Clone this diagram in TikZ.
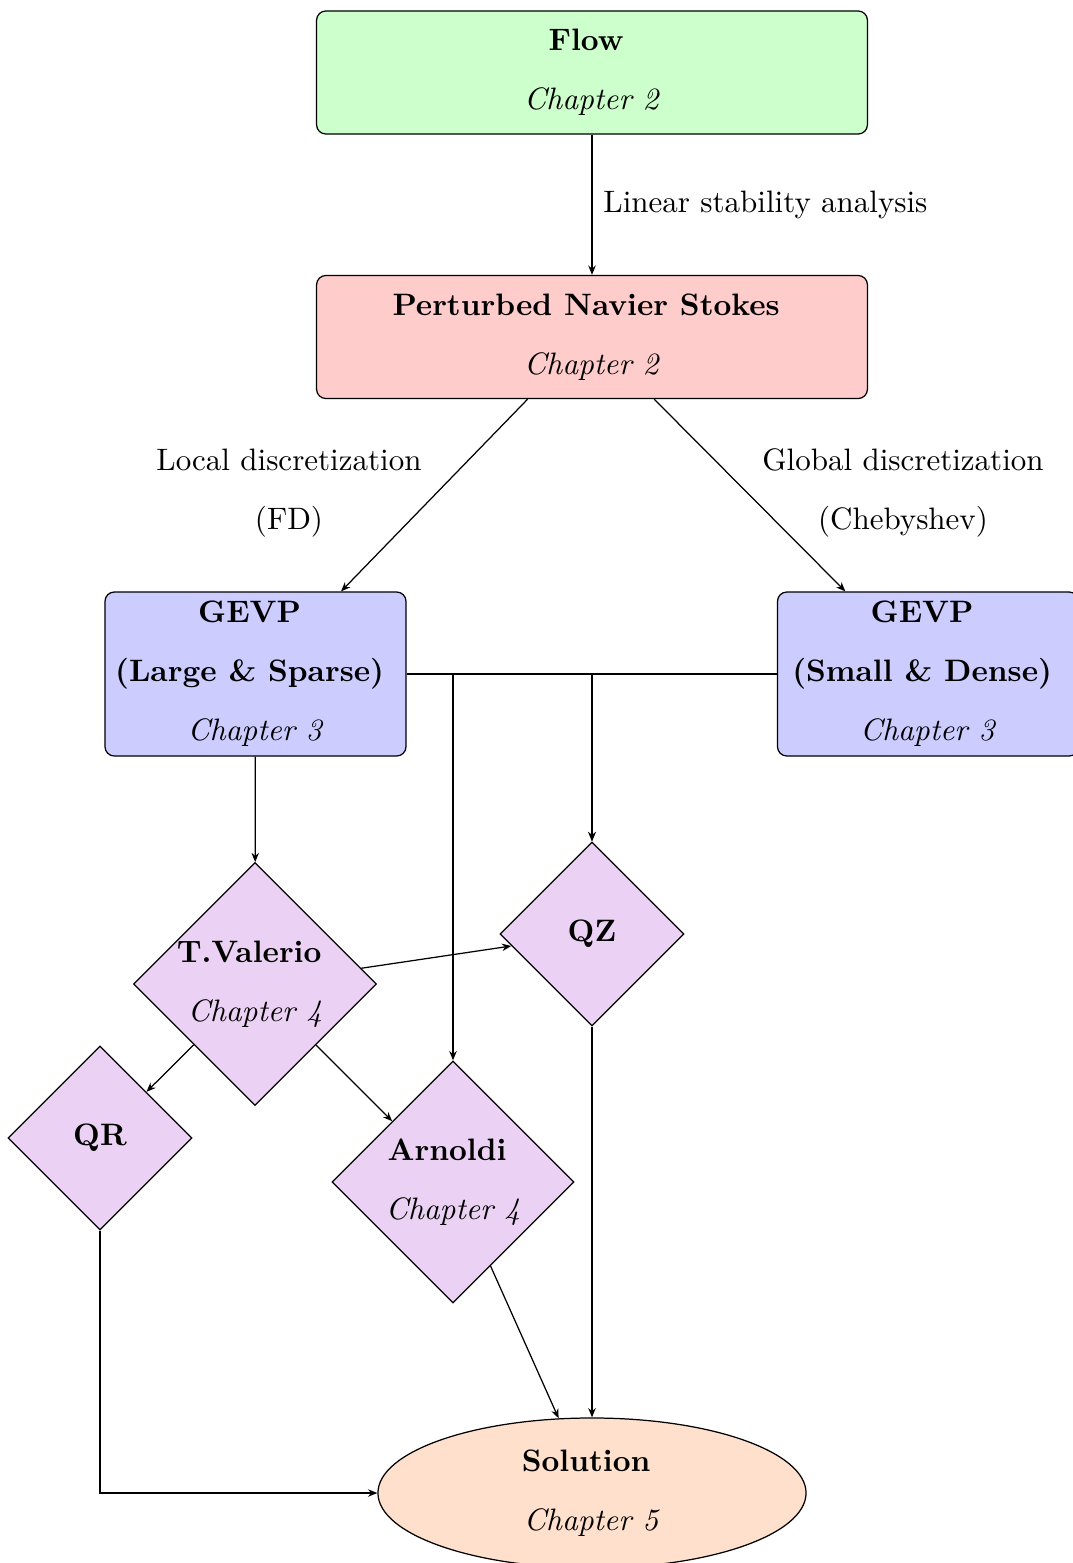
\documentclass[tikz,border=0pt]{standalone}
\usetikzlibrary{shapes.geometric,arrows.meta}
\definecolor{flowgreen}{RGB}{204,255,204}
\definecolor{pnsred}{RGB}{255,204,204}
\definecolor{gevpblue}{RGB}{204,204,255}
\definecolor{diaviolet}{RGB}{235,209,243}
\definecolor{solorange}{RGB}{255,224,204}
\newcommand{\bline}[1]{\textbf{#1}\kern3.8pt}
\tikzset{
  arr/.style={-{Stealth[length=3pt,width=2.4pt]}},
  topbox/.style={draw, rounded corners=3pt, align=center, inner sep=1pt,
    minimum width=177.7pt, minimum height=39.7pt},
  gevpbox/.style={draw, rounded corners=3pt, align=center, inner sep=1pt,
    fill=gevpblue, minimum width=97.1pt, minimum height=52.9pt},
  bigdia/.style={draw, diamond, shape aspect=1, align=center, inner sep=0pt,
    fill=diaviolet, minimum width=78.1pt, minimum height=78.1pt},
  smalldia/.style={draw, diamond, shape aspect=1, align=center, inner sep=0pt,
    fill=diaviolet, minimum width=59.4pt, minimum height=59.4pt},
  solell/.style={draw, ellipse, align=center, inner sep=0pt,
    fill=solorange, minimum width=138.1pt, minimum height=48.4pt},
  lbl/.style={align=center, inner sep=0pt}
}
\begin{document}
\begin{tikzpicture}[x=0.32258pt,y=-0.32258pt]
\useasboundingbox (0,0) rectangle (1073,1563);

\node[topbox, fill=flowgreen] (flow) at (592,72.5) {\bline{Flow}\\[7pt]\textit{Chapter 2}};
\node[topbox, fill=pnsred] (pns) at (592,337) {\bline{Perturbed Navier Stokes}\\[7pt]\textit{Chapter 2}};

\node[gevpbox] (gevpL) at (255.5,674) {\bline{GEVP}\\[7pt]\bline{(Large \& Sparse)}\\[7pt]\textit{Chapter 3}};
\node[gevpbox] (gevpR) at (928,674) {\bline{GEVP}\\[7pt]\bline{(Small \& Dense)}\\[7pt]\textit{Chapter 3}};

\node[lbl] (lblL) at (289,493) {Local discretization\\[7pt](FD)};
\node[lbl] (lblR) at (903,493) {Global discretization\\[7pt](Chebyshev)};

\node[bigdia] (tv) at (255,984) {\bline{T.Valerio}\\[7pt]\textit{Chapter 4}};
\node[smalldia] (qz) at (592,934) {\textbf{QZ}};
\node[smalldia] (qr) at (100,1138) {\textbf{QR}};
\node[bigdia] (arn) at (453,1182) {\bline{Arnoldi}\\[7pt]\textit{Chapter 4}};
\node[solell] (sol) at (592,1493) {\bline{Solution}\\[7pt]\textit{Chapter 5}};

\draw[arr] (flow) -- node[midway, right, inner sep=3.5pt] {Linear stability analysis} (pns);
\draw[arr] (pns.224.6) -- (gevpL.44);
\draw[arr] (pns.315.4) -- (gevpR.135.3);

\draw[arr] (gevpL.east) -| (arn.north);
\draw[arr] (gevpL.east) -| (qz.north);
\draw[arr] (gevpR.west) -| (qz.north);
\draw[arr] (gevpL) -- (tv);

\draw[arr] (tv) -- (qz);
\draw[arr] (tv) -- (qr);
\draw[arr] (tv) -- (arn);

\draw[arr] (qz) -- (sol);
\draw[arr] (arn) -- (sol);
\draw[arr] (qr) |- (sol);
\end{tikzpicture}
\end{document}
